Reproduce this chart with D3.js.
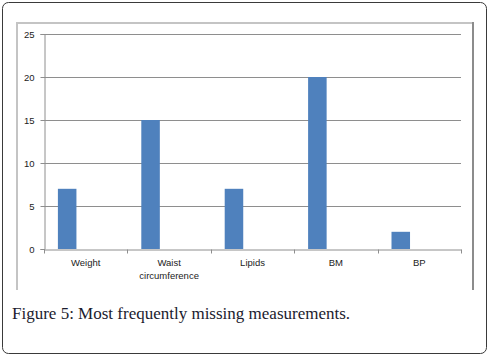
<!DOCTYPE html>
<html>
<head>
<meta charset="utf-8">
<script src="https://cdn.jsdelivr.net/npm/d3@7"></script>
<style>
  body { margin: 0; background: #fff; }
  #chart { width: 490px; height: 357px; }
  .tick text { font-family: "Liberation Sans", Arial, sans-serif; font-size: 9.5px; fill: #222; }
</style>
</head>
<body>
<div id="chart"></div>
<script>
// data
const categories = ["Weight", "Waist circumference", "Lipids", "BM", "BP"];
const missing = [7, 15, 7, 20, 2];
const yTicks = [0, 5, 10, 15, 20, 25];
// Excel left room for three series per category, only the first has values
const seriesSlots = ["Series1", "Series2", "Series3"];
const caption = "Figure 5: Most frequently missing measurements.";

const width = 490;
const height = 357;
const plot = {left: 44, right: 461, top: 34, bottom: 249};

const svg = d3.select("#chart")
    .append("svg")
    .attr("width", width)
    .attr("height", height);

// outer rounded frame
svg.append("rect")
    .attr("x", 2.5).attr("y", 2.5)
    .attr("width", 484).attr("height", 351)
    .attr("rx", 6)
    .attr("fill", "#fff")
    .attr("stroke", "#3a3a3a")
    .attr("stroke-width", 1);

// chart box (top/left light, right shadowed)
svg.append("path")
    .attr("d", "M17,290 V23 H473")
    .attr("fill", "none")
    .attr("stroke", "#c4c4c4")
    .attr("stroke-width", 2);
svg.append("line")
    .attr("x1", 473).attr("x2", 473)
    .attr("y1", 22).attr("y2", 290)
    .attr("stroke", "#8c8c8c")
    .attr("stroke-width", 2);

const xScale = d3.scaleBand()
    .domain(categories)
    .range([plot.left, plot.right])
    .padding(0);

const slotScale = d3.scaleBand()
    .domain(seriesSlots)
    .range([0, xScale.bandwidth()])
    .paddingInner(0)
    .paddingOuter(0.75);

const yScale = d3.scaleLinear()
    .domain([0, 25])
    .range([plot.bottom, plot.top]);

// gridlines
svg.append("g")
    .selectAll("line")
    .data(yTicks.filter(d => d > 0))
    .enter()
    .append("line")
        .attr("x1", plot.left)
        .attr("x2", plot.right)
        .attr("y1", d => Math.round(yScale(d)) + 0.5)
        .attr("y2", d => Math.round(yScale(d)) + 0.5)
        .attr("stroke", "#8e8e8e")
        .attr("stroke-width", 1);

// bars
svg.selectAll("rect.bar")
    .data(missing)
    .enter()
    .append("rect")
        .attr("class", "bar")
        .attr("x", (d, i) => xScale(categories[i]) + slotScale("Series1"))
        .attr("y", d => yScale(d))
        .attr("width", slotScale.bandwidth())
        .attr("height", d => plot.bottom - yScale(d))
        .attr("fill", "#4f81bd");

// y axis
const yAxis = svg.append("g")
    .attr("transform", `translate(${plot.left + 0.5},0)`)
    .call(d3.axisLeft(yScale).tickValues(yTicks).tickSize(4).tickPadding(6));

// x axis with ticks between categories
const xAxis = svg.append("g")
    .attr("transform", `translate(0,${plot.bottom + 0.5})`)
    .call(d3.axisBottom(xScale).tickSize(0).tickPadding(10));

xAxis.selectAll(".tick text").each(function(d) {
    const words = d.split(" ");
    const t = d3.select(this).text(null);
    words.forEach((w, i) => {
        t.append("tspan")
            .attr("x", 0)
            .attr("dy", i === 0 ? "0.71em" : "1.38em")
            .text(w);
    });
});

xAxis.selectAll(".bound")
    .data(d3.range(categories.length + 1))
    .enter()
    .append("line")
        .attr("class", "bound")
        .attr("x1", i => Math.round(plot.left + i * xScale.step()) + 0.5)
        .attr("x2", i => Math.round(plot.left + i * xScale.step()) + 0.5)
        .attr("y1", 0)
        .attr("y2", 4)
        .attr("stroke", "#8e8e8e");

svg.selectAll(".domain").attr("stroke", "#8e8e8e");
yAxis.selectAll(".tick line").attr("stroke", "#8e8e8e");

// caption
svg.append("text")
    .attr("x", 12)
    .attr("y", 319)
    .attr("font-family", "Liberation Serif, 'Times New Roman', serif")
    .attr("font-size", 17)
    .attr("fill", "#1b1b2e")
    .text(caption);
</script>
</body>
</html>
